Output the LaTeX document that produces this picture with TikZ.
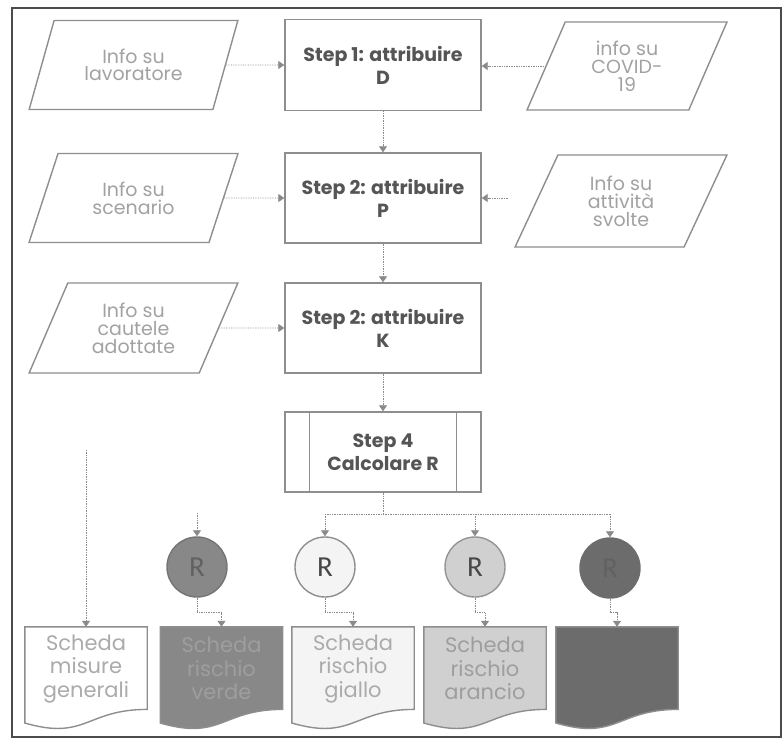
\documentclass[tikz,border=0pt]{standalone}
\usepackage{fontspec}
\setmainfont{Poppins}
\newfontfamily\rfont{Carlito}
\usetikzlibrary{shapes.geometric,arrows.meta,calc}
\definecolor{bord}{HTML}{8E8E8E}
\definecolor{stepcol}{HTML}{555555}
\definecolor{infocol}{HTML}{A2A2A2}
\definecolor{conncol}{HTML}{8A8A8A}
\definecolor{gfill}{HTML}{888888}
\definecolor{yfill}{HTML}{F4F4F4}
\definecolor{ofill}{HTML}{D0D0D0}
\definecolor{rfill}{HTML}{6C6C6C}
\newcommand\mkdoc[3]{%
  \node[docbox] (#1) at (#2,678.5) {};
  \draw[docline,fill=#3] (#1.north west) -- (#1.north east) -- ($(#1.north east)+(0,82.6)$)
    .. controls ($(#1.north)+(0,82.6)$) and ($(#1.north)+(0,114)$) .. ($(#1.north west)+(0,96.2)$) -- cycle;
}
\begin{document}
\begin{tikzpicture}[x=1pt,y=-1pt,
  stepbox/.style={draw=bord, line width=1.4pt, fill=white, rectangle, minimum width=196pt, inner sep=0pt,
    text=stepcol, align=center, font=\bfseries\fontsize{19}{23}\selectfont},
  parbox/.style={draw=bord, line width=1.4pt, fill=white, trapezium, trapezium stretches=true,
    inner sep=0pt, text=infocol, align=center, font=\fontsize{19}{18}\selectfont},
  conn/.style={draw=conncol, line width=0.7pt, densely dotted, -{Triangle[width=8pt,length=6pt,fill=conncol]}},
  plain/.style={draw=conncol, line width=0.7pt, densely dotted},
  rcirc/.style={circle, minimum size=60pt, inner sep=0pt, line width=1.4pt, font=\rfont\fontsize{29}{29}\selectfont},
  docbox/.style={rectangle, minimum width=122pt, minimum height=103pt, inner sep=0pt, draw=none},
  docline/.style={draw=bord, line width=1.4pt},
  doctext/.style={align=center, inner sep=0pt, font=\fontsize{21}{23.5}\selectfont}
]
\useasboundingbox (0,0) rectangle (784,739);
\draw[draw=black!70, line width=1.2pt] (12,8) rectangle (781,737);

% step boxes
\node[stepbox, minimum height=91pt] (s1) at (383,65) {Step 1: attribuire\\D};
\node[stepbox, minimum height=90pt] (s2) at (383,198) {Step 2: attribuire\\P};
\node[stepbox, minimum height=90pt] (s3) at (383,328) {Step 2: attribuire\\K};
\node[stepbox, minimum height=80pt] (s4) at (383,452) {Step 4\\Calcolare R};
\draw[draw=bord, line width=1.4pt] ($(s4.north west)+(25,0)$) -- ($(s4.south west)+(25,0)$);
\draw[draw=bord, line width=1.4pt] ($(s4.north east)+(-25,0)$) -- ($(s4.south east)+(-25,0)$);

% info parallelograms
\node[parbox, trapezium left angle=64.2, trapezium right angle=115.8, minimum width=209pt, minimum height=89pt]
  (p1) at (133.5,65) {\raisebox{-3pt}{\shortstack{Info su\\lavoratore}}};
\node[parbox, trapezium left angle=64.2, trapezium right angle=115.8, minimum width=209pt, minimum height=89pt]
  (p2) at (133.5,198) {Info su\\scenario};
\node[parbox, trapezium left angle=64.2, trapezium right angle=115.8, minimum width=209pt, minimum height=90pt]
  (p3) at (133.5,328) {Info su\\cautele\\adottate};
\node[parbox, trapezium left angle=66.5, trapezium right angle=113.5, minimum width=200pt, minimum height=88pt]
  (p4) at (627,66) {info su\\COVID-\\19};
\node[parbox, trapezium left angle=66, trapezium right angle=114, minimum width=212pt, minimum height=92pt]
  (p5) at (621,201) {Info su\\attività\\svolte};

% connectors info -> steps
\draw[conn] (p1.east) -- (s1.west);
\draw[conn] (p2.east) -- (s2.west);
\draw[conn] (p3.east) -- (s3.west);
\draw[conn] (p4.west) -- (p4.west -| s1.east);
\coordinate (c5) at (508,198);
\draw[conn] (c5) -- (s2.east);

% vertical chain
\draw[conn] (s1.south) -- (s2.north);
\draw[conn] (s2.south) -- (s3.north);
\draw[conn] (s3.south) -- (s4.north);

% circles
\node[rcirc, draw=gfill!85!black, fill=gfill, text=black!62] (cg) at (197,567) {R};
\node[rcirc, draw=bord, fill=yfill, text=black!72] (cy) at (325,567) {R};
\node[rcirc, draw=black!42, fill=ofill, text=black!72] (co) at (475,567) {R};
\node[rcirc, draw=rfill, fill=rfill, text=black!62] (cr) at (610,568) {R};

% fan out from step 4
\coordinate (hb) at (383,514);
\draw[plain] (s4.south) -- (hb);
\draw[plain] (hb -| cy.center) -- (hb -| cr.center);
\draw[conn] (hb -| cy.center) -- (cy.north);
\draw[conn] (hb -| co.center) -- (co.north);
\draw[conn] (hb -| cr.center) -- (cr.north);
\coordinate (gs) at (197,513);
\draw[conn] (gs) -- (cg.north);

% documents
\mkdoc{d1}{86}{white}
\mkdoc{d2}{221.5}{gfill}
\mkdoc{d3}{353}{yfill}
\mkdoc{d4}{485}{ofill}
\mkdoc{d5}{617}{rfill}
\node[doctext, text=black!33] (t1) at ($(d1.north)+(0,42)$) {Scheda\\misure\\generali};
\node[doctext, text=black!38] (t2) at ($(d2.north)+(0,42)$) {Scheda\\rischio\\verde};
\node[doctext, text=black!33] (t3) at ($(d3.north)+(0,42)$) {Scheda\\rischio\\giallo};
\node[doctext, text=black!38] (t4) at ($(d4.north)+(0,42)$) {Scheda\\rischio\\arancio};

% connectors to documents
\coordinate (ls) at (86,450);
\draw[conn] (ls) -- (d1.north);
\draw[conn] (cg.south) -- ++(0,15) -| (d2.north);
\draw[conn] (cy.south) -- ++(0,15) -| (d3.north);
\draw[conn] (co.south) -- ++(0,15) -| (d4.north);
\draw[conn] (cr.south) -- ++(0,14) -| (d5.north);
\end{tikzpicture}
\end{document}
